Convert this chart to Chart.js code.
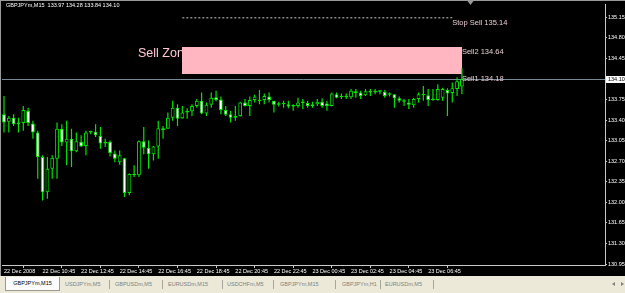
<!DOCTYPE html>
<html lang="en">
<head>
<meta charset="UTF-8">
<title>GBPJPYm,M15</title>
<script src="https://cdn.jsdelivr.net/npm/chart.js@4.4.1/dist/chart.umd.min.js"></script>
<style>
    html, body { margin: 0; padding: 0; background: #ece9d8; }
    #wrap { position: relative; width: 625px; height: 293px; overflow: hidden; }
    #chart { position: absolute; left: 0; top: 0; }
    .tabs { position: absolute; left: 0; top: 276px; width: 625px; height: 17px; background: #ece9d8;
            font: 5.5px "Liberation Sans", Arial, sans-serif; color: #808080; }
    .tab { position: absolute; top: 5px; white-space: nowrap; }
    .tab.active { left: 5px; top: 1px; width: 53px; height: 13px; line-height: 13px; background: #fcfcfc;
                  border: 1px solid #9c9a8c; border-top: none; color: #000; text-align: center; }
    .sep { position: absolute; top: 4px; width: 1px; height: 9px; background: #a8a69a; }
    .arr { position: absolute; top: 6px; width: 0; height: 0; border-top: 2px solid transparent; border-bottom: 2px solid transparent; }
</style>
</head>
<body>
<div id="wrap">
    <canvas id="chart" width="625" height="276"></canvas>
    <div class="tabs">
        <div class="tab active">GBPJPYm,M15</div>
        <div class="tab" style="left:65px">USDJPYm,M5</div>
        <div class="sep" style="left:109px"></div>
        <div class="tab" style="left:115px">GBPUSDm,M5</div>
        <div class="sep" style="left:162px"></div>
        <div class="tab" style="left:168px">EURUSDm,M15</div>
        <div class="sep" style="left:222px"></div>
        <div class="tab" style="left:227px">USDCHFm,M5</div>
        <div class="sep" style="left:273px"></div>
        <div class="tab" style="left:280px">GBPJPYm,M15</div>
        <div class="sep" style="left:335px"></div>
        <div class="tab" style="left:342px">GBPJPYm,H1</div>
        <div class="sep" style="left:380px"></div>
        <div class="tab" style="left:385px">EURUSDm,M5</div>
        <div class="sep" style="left:433px"></div>
        <div class="arr" style="left:612px; border-right:3px solid #808080"></div>
        <div class="arr" style="left:621px; border-left:3px solid #808080"></div>
    </div>
</div>

<script type="text/javascript">
    // GBPJPYm M15 bars
    const symbol = 'GBPJPYm,M15';
    const opens = [133.50, 133.37, 133.44, 133.33, 133.35, 133.56, 133.34, 133.19, 132.77, 132.17,
        132.57, 132.74, 133.25, 133.02, 133.08, 132.87, 133.03, 132.96, 133.19, 133.20,
        133.13, 133.03, 133.03, 132.83, 132.68, 132.75, 132.16, 132.48, 132.46, 133.04,
        132.93, 132.82, 132.95, 133.26, 133.25, 133.44, 133.61, 133.43, 133.53, 133.55,
        133.64, 133.73, 133.51, 133.66, 133.79, 133.75, 133.57, 133.50, 133.44, 133.47,
        133.70, 133.64, 133.74, 133.73, 133.74, 133.80, 133.73, 133.66, 133.68, 133.67,
        133.63, 133.64, 133.70, 133.69, 133.64, 133.67, 133.71, 133.68, 133.64, 133.84,
        133.79, 133.81, 133.79, 133.89, 133.87, 133.82, 133.89, 133.87, 133.89, 133.88,
        133.83, 133.84, 133.77, 133.73, 133.70, 133.65, 133.76, 133.84, 133.82, 133.74,
        133.74, 133.78, 133.91, 133.86, 133.93, 133.97];
    const highs = [133.81, 133.47, 133.50, 133.44, 133.64, 133.61, 133.39, 133.22, 132.80, 132.77,
        132.80, 133.36, 133.33, 133.39, 133.25, 133.19, 133.14, 133.22, 133.22, 133.33,
        133.28, 133.08, 133.05, 132.88, 132.88, 132.76, 132.49, 132.63, 133.05, 133.28,
        133.05, 132.96, 133.39, 133.30, 133.53, 133.73, 133.67, 133.64, 133.60, 133.67,
        133.76, 133.87, 133.70, 133.87, 133.90, 133.80, 133.64, 133.56, 133.64, 133.71,
        133.76, 133.80, 133.83, 133.91, 133.85, 133.87, 133.73, 133.71, 133.73, 133.73,
        133.67, 133.78, 133.76, 133.73, 133.71, 133.76, 133.77, 133.73, 133.87, 133.87,
        133.85, 133.85, 133.93, 133.93, 133.90, 133.93, 133.93, 133.93, 133.91, 133.91,
        133.87, 133.84, 133.80, 133.76, 133.76, 133.78, 133.87, 133.98, 133.93, 133.93,
        134.01, 133.95, 133.94, 134.04, 134.13, 134.28];
    const lows = [133.19, 133.19, 133.30, 133.19, 133.22, 133.30, 133.08, 132.40, 132.03, 132.06,
        132.40, 132.40, 132.96, 132.63, 132.60, 132.85, 132.94, 132.80, 133.16, 133.11,
        132.91, 132.94, 132.78, 132.68, 132.64, 132.09, 132.12, 132.43, 132.43, 132.82,
        132.57, 132.71, 132.74, 133.08, 133.25, 133.39, 133.30, 133.42, 133.42, 133.47,
        133.61, 133.50, 133.47, 133.61, 133.72, 133.50, 133.47, 133.36, 133.39, 133.46,
        133.63, 133.47, 133.70, 133.67, 133.67, 133.70, 133.53, 133.63, 133.61, 133.60,
        133.56, 133.61, 133.59, 133.61, 133.61, 133.64, 133.61, 133.56, 133.63, 133.77,
        133.76, 133.76, 133.76, 133.78, 133.76, 133.81, 133.81, 133.84, 133.84, 133.78,
        133.80, 133.61, 133.70, 133.64, 133.59, 133.61, 133.70, 133.73, 133.64, 133.73,
        133.73, 133.73, 133.47, 133.70, 133.81, 133.84];
    const closes = [133.36, 133.44, 133.33, 133.36, 133.57, 133.35, 133.19, 132.77, 132.17, 132.57,
        132.76, 133.25, 133.02, 133.08, 132.87, 133.04, 132.95, 133.19, 133.21, 133.14,
        133.00, 133.00, 132.84, 132.74, 132.80, 132.16, 132.48, 132.46, 133.04, 132.93,
        132.82, 132.95, 133.26, 133.23, 133.44, 133.61, 133.42, 133.53, 133.55, 133.64,
        133.73, 133.51, 133.66, 133.78, 133.74, 133.57, 133.49, 133.44, 133.47, 133.70,
        133.64, 133.74, 133.80, 133.72, 133.81, 133.74, 133.66, 133.68, 133.67, 133.63,
        133.64, 133.70, 133.69, 133.64, 133.67, 133.71, 133.64, 133.64, 133.85, 133.78,
        133.81, 133.79, 133.90, 133.86, 133.81, 133.89, 133.87, 133.90, 133.88, 133.81,
        133.85, 133.77, 133.73, 133.71, 133.66, 133.76, 133.84, 133.82, 133.74, 133.76,
        133.93, 133.93, 133.85, 133.94, 134.06, 134.10];

    // time axis labels and the bar each one sits on
    const xTickBars = [0, 8, 16, 24, 32, 40, 48, 56, 64, 72, 80, 88];
    const xTickLabels = ['22 Dec 2008', '22 Dec 10:45', '22 Dec 12:45', '22 Dec 14:45', '22 Dec 16:45',
        '22 Dec 18:45', '22 Dec 20:45', '22 Dec 22:45', '23 Dec 00:45', '23 Dec 02:45',
        '23 Dec 04:45', '23 Dec 06:45'];
    // price axis labels
    const yTicks = [130.95, 131.30, 131.65, 132.00, 132.35, 132.70, 133.05, 133.40, 133.75,
        134.10, 134.45, 134.80, 135.15];

    // objects on the chart
    const bidPrice = 134.10;
    const zoneLabel = 'Sell Zone';
    const zoneLabelBar = 27.8;
    const zoneTop = 134.64, zoneBottom = 134.18;
    const zoneFrom = 37, zoneTo = 95;
    const stopSellPrice = 135.14;
    const stopSellFrom = 37, stopSellTo = 93;
    const levelNames = ['Stop Sell 135.14', 'Sell2 134.64', 'Sell1 134.18'];
    const levelPrices = [135.14, 134.64, 134.18];
    const levelBars = [93, 95, 95];

    const FONT = '"Liberation Sans", Arial, sans-serif';

    let wicks = [], bodies = [], bodyColors = [];
    for (let i = 0; i < opens.length; i++) {
        wicks.push({x: i, y: [lows[i], highs[i]]});
        bodies.push({x: i, y: [opens[i], closes[i]]});
        bodyColors.push(closes[i] < opens[i] ? '#ffffff' : '#000000');
    }

    const mtPlugin = {
        id: 'mt',
        beforeDraw(chart) {
            const ctx = chart.ctx;
            ctx.save();
            ctx.fillStyle = '#000';
            ctx.fillRect(0, 0, chart.width, chart.height);
            ctx.fillStyle = '#9a9a9a';
            ctx.fillRect(0, 0, chart.width, 1);
            ctx.fillRect(0, 0, 1, chart.height);
            ctx.restore();
        },
        beforeDatasetsDraw(chart) {
            const {ctx, chartArea: a} = chart;
            const x = chart.scales.x, y = chart.scales.y;
            ctx.save();
            // bid line
            const by = Math.round(y.getPixelForValue(bidPrice)) + 0.5;
            ctx.strokeStyle = '#778899';
            ctx.lineWidth = 1;
            ctx.beginPath();
            ctx.moveTo(a.left, by);
            ctx.lineTo(a.right, by);
            ctx.stroke();
            // zone label, then the zone itself over it
            ctx.fillStyle = '#ffc8d2';
            ctx.font = '12.5px ' + FONT;
            ctx.textBaseline = 'top';
            ctx.fillText(zoneLabel, x.getPixelForValue(zoneLabelBar), y.getPixelForValue(zoneTop));
            const x0 = x.getPixelForValue(zoneFrom), x1 = x.getPixelForValue(zoneTo);
            const y0 = y.getPixelForValue(zoneTop), y1 = y.getPixelForValue(zoneBottom);
            ctx.fillStyle = '#ffb6c1';
            ctx.fillRect(Math.round(x0), Math.round(y0), Math.round(x1 - x0), Math.round(y1 - y0));
            ctx.restore();
        },
        afterDraw(chart) {
            const {ctx, chartArea: a} = chart;
            const x = chart.scales.x, y = chart.scales.y;
            const n = opens.length - 1;
            ctx.save();
            // title line
            ctx.fillStyle = '#ffffff';
            ctx.font = '5.5px ' + FONT;
            ctx.textBaseline = 'middle';
            ctx.fillText(symbol + '  ' + opens[n].toFixed(2) + ' ' + highs[n].toFixed(2) + ' ' +
                lows[n].toFixed(2) + ' ' + closes[n].toFixed(2), 6, 5.5);
            // level texts
            ctx.fillStyle = '#e6ccd0';
            ctx.font = '7.5px ' + FONT;
            for (let k = 0; k < levelNames.length; k++) {
                ctx.fillText(levelNames[k], x.getPixelForValue(levelBars[k]), y.getPixelForValue(levelPrices[k]) + 5);
            }
            // bid price box on the axis
            const by = Math.round(y.getPixelForValue(bidPrice));
            ctx.fillStyle = '#ffffff';
            ctx.fillRect(a.right + 1, by - 3, 20, 7);
            ctx.fillStyle = '#000000';
            ctx.font = '5.5px ' + FONT;
            ctx.fillText(bidPrice.toFixed(2), a.right + 3, by + 0.5);
            // chart shift marker
            const sx = Math.round(x.getPixelForValue(n + 1.7)) + 0.5;
            ctx.fillStyle = '#9a9a9a';
            ctx.beginPath();
            ctx.moveTo(sx - 3, 1);
            ctx.lineTo(sx + 3, 1);
            ctx.lineTo(sx, 5);
            ctx.closePath();
            ctx.fill();
            ctx.restore();
        }
    };

    new Chart(document.getElementById('chart').getContext('2d'), {
        type: 'bar',
        data: {
            datasets: [
                {
                    label: 'wick',
                    data: wicks,
                    backgroundColor: '#00e600',
                    borderWidth: 0,
                    barThickness: 1.2,
                    grouped: false,
                    inflateAmount: 0,
                    order: 2
                },
                {
                    label: 'body',
                    data: bodies,
                    backgroundColor: bodyColors,
                    borderColor: '#00e600',
                    borderWidth: 1,
                    borderSkipped: false,
                    barThickness: 3.8,
                    minBarLength: 1.5,
                    grouped: false,
                    inflateAmount: 0,
                    order: 1
                },
                {
                    type: 'line',
                    label: 'stop sell',
                    data: [{x: stopSellFrom, y: stopSellPrice}, {x: stopSellTo, y: stopSellPrice}],
                    borderColor: '#c8c8c8',
                    borderWidth: 1,
                    borderDash: [2, 2],
                    pointRadius: 0,
                    order: 3
                }
            ]
        },
        options: {
            responsive: false,
            animation: false,
            devicePixelRatio: 1,
            layout: {padding: {left: 2, top: 3, right: 0, bottom: 0}},
            plugins: {legend: {display: false}, tooltip: {enabled: false}},
            scales: {
                x: {
                    type: 'linear',
                    min: -0.415,
                    max: 124.69,
                    offset: false,
                    grid: {display: true, drawOnChartArea: false, drawTicks: true, tickLength: 3, color: '#c8c8c8'},
                    border: {display: true, color: '#c8c8c8'},
                    afterBuildTicks: function (scale) {
                        scale.ticks = xTickBars.map(function (v) { return {value: v}; });
                    },
                    afterFit: function (scale) { scale.height = 11; },
                    ticks: {
                        autoSkip: false,
                        maxRotation: 0,
                        align: 'start',
                        padding: 0,
                        color: '#ffffff',
                        font: {family: FONT, size: 5.5},
                        callback: function (value) { return xTickLabels[xTickBars.indexOf(value)]; }
                    }
                },
                y: {
                    position: 'right',
                    min: 130.933,
                    max: 135.37,
                    grid: {display: true, drawOnChartArea: false, drawTicks: true, tickLength: 2, color: '#c8c8c8'},
                    border: {display: true, color: '#c8c8c8'},
                    afterBuildTicks: function (scale) {
                        scale.ticks = yTicks.map(function (v) { return {value: v}; });
                    },
                    afterFit: function (scale) { scale.width = 20; },
                    ticks: {
                        padding: 1,
                        color: '#ffffff',
                        font: {family: FONT, size: 5.5},
                        callback: function (value) { return value.toFixed(2); }
                    }
                }
            }
        },
        plugins: [mtPlugin]
    });
</script>
</body>
</html>
